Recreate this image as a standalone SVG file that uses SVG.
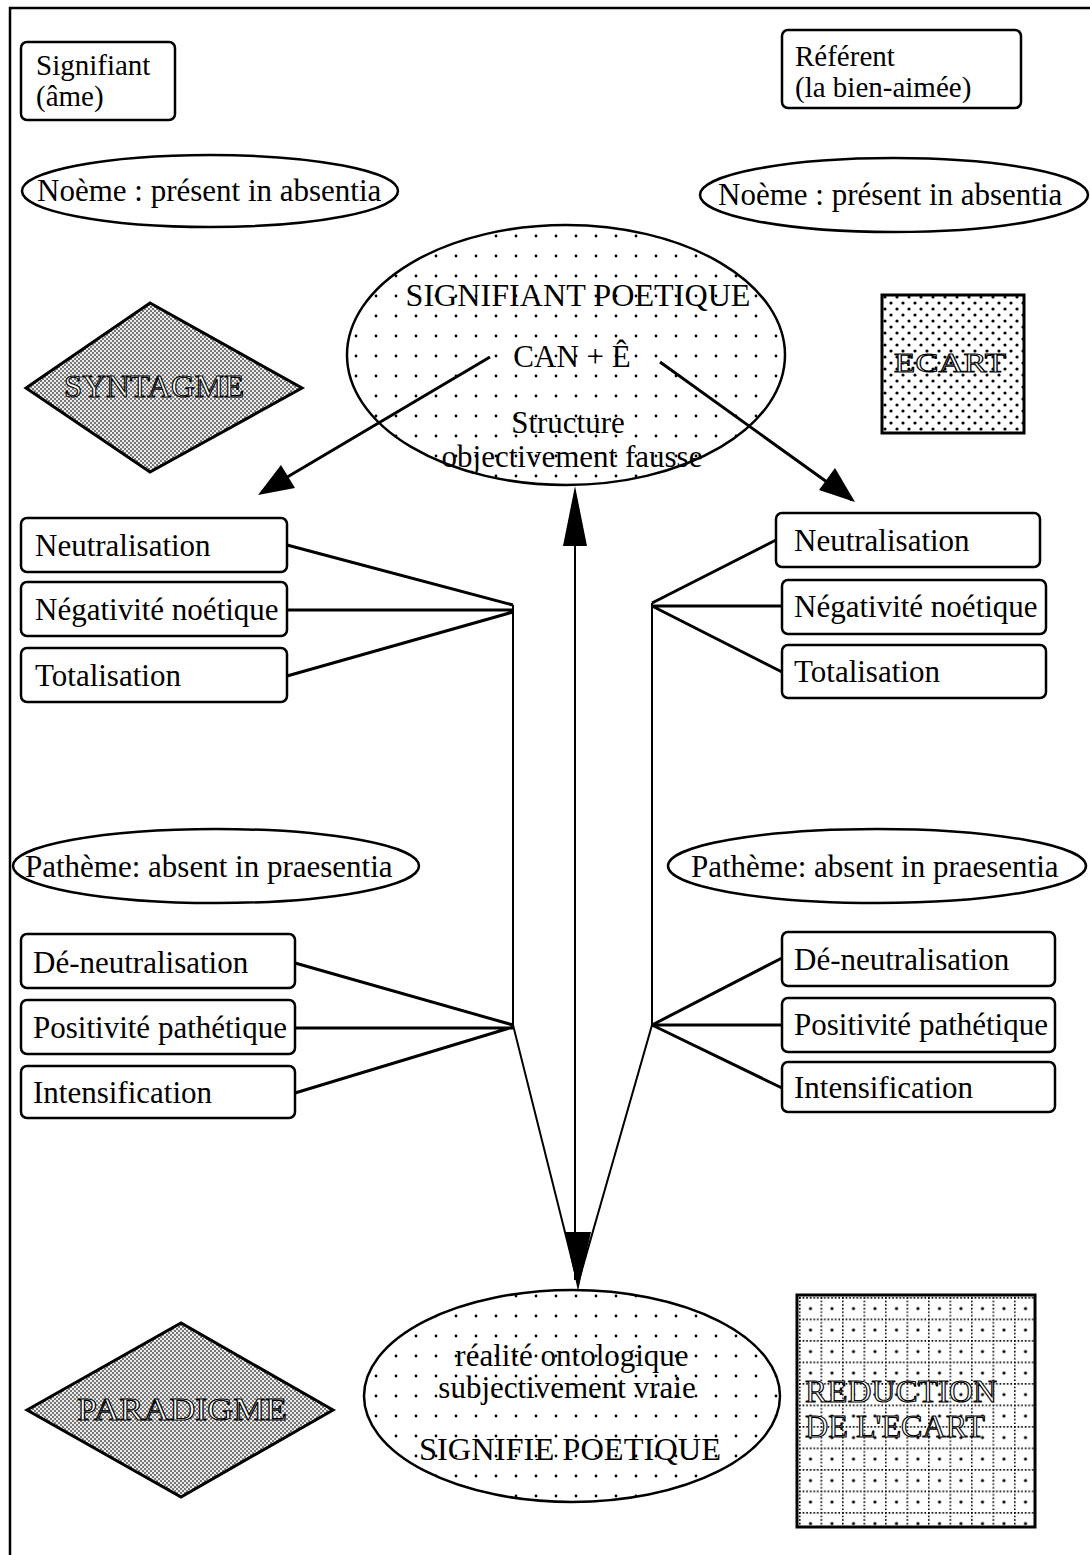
<svg xmlns="http://www.w3.org/2000/svg" width="1090" height="1555" viewBox="0 0 1090 1555">
<defs>
<pattern id="dots" width="20" height="20" patternUnits="userSpaceOnUse" x="6" y="6">
<circle cx="10" cy="10" r="1.4" fill="#000"/>
</pattern>
<pattern id="dense" width="12" height="12" patternUnits="userSpaceOnUse">
<circle cx="3" cy="3" r="1.6" fill="#000"/>
<circle cx="9" cy="9" r="1.6" fill="#000"/>
</pattern>
<pattern id="gray" width="4" height="4" patternUnits="userSpaceOnUse">
<rect width="4" height="4" fill="#ececec"/>
<rect x="0" y="0" width="2" height="2" fill="#777"/>
<rect x="2" y="2" width="2" height="2" fill="#777"/>
</pattern>
<pattern id="grid" width="21.5" height="21.5" patternUnits="userSpaceOnUse" x="799" y="1297">
<line x1="0" y1="0.8" x2="21.5" y2="0.8" stroke="#000" stroke-width="1.6" stroke-dasharray="1.6 2"/>
<line x1="0.8" y1="0" x2="0.8" y2="21.5" stroke="#000" stroke-width="1.6" stroke-dasharray="1.6 2"/>
<circle cx="11.5" cy="11.5" r="1.6" fill="#000"/>
</pattern>
</defs>
<style>
text{font-family:"Liberation Serif","Times New Roman",serif;font-size:31px;fill:#000}
.box{fill:#fff;stroke:#000;stroke-width:2.5}
.ell{fill:#fff;stroke:#000;stroke-width:2.5}
.dot{fill:url(#dots);stroke:#000;stroke-width:2.5}
.out{fill:#fff;stroke:#000;stroke-width:1.1}
.c{text-anchor:middle}
.ln{stroke:#000;stroke-width:3;fill:none}
.thin{stroke:#000;stroke-width:2;fill:none}
</style>
<rect width="1090" height="1555" fill="#fff"/>
<path d="M10,1555 L10,8 L1090,8" fill="none" stroke="#000" stroke-width="2.5"/>

<g id="signifiant">
<rect class="box" x="21" y="42" width="154" height="78" rx="6"/>
<text x="36" y="75" style="font-size:29px">Signifiant<tspan x="36" y="106">(âme)</tspan></text>
</g>
<g id="referent">
<rect class="box" x="782" y="30" width="239" height="78" rx="6"/>
<text x="795" y="66" style="font-size:29px">Référent<tspan x="795" y="97">(la bien-aimée)</tspan></text>
</g>
<g id="noeme-left">
<ellipse class="ell" cx="210" cy="191" rx="188" ry="36"/>
<text x="37" y="201">Noème : présent in absentia</text>
</g>
<g id="noeme-right">
<ellipse class="ell" cx="894" cy="195" rx="194" ry="37"/>
<text x="718" y="205">Noème : présent in absentia</text>
</g>
<g id="signifiant-poetique">
<ellipse class="dot" cx="566" cy="355" rx="219" ry="130"/>
<text class="c" x="578" y="306" textLength="345" lengthAdjust="spacingAndGlyphs">SIGNIFIANT POETIQUE</text>
<text class="c" x="572" y="367">CAN + Ê</text>
<text class="c" x="568" y="433">Structure</text>
<text class="c" x="572" y="467">objectivement fausse</text>
</g>
<g id="syntagme">
<polygon points="26,388 150,303 302,388 150,472" fill="url(#gray)" stroke="#000" stroke-width="3"/>
<text class="out c" x="154" y="397" textLength="180" lengthAdjust="spacingAndGlyphs">SYNTAGME</text>
</g>
<g id="ecart">
<rect x="882" y="295" width="142" height="138" fill="url(#dense)" stroke="#000" stroke-width="3"/>
<text class="out c" x="950" y="372" style="font-size:28px" textLength="112" lengthAdjust="spacingAndGlyphs">ECART</text>
</g>

<g id="connectors">
<line class="ln" x1="490" y1="357" x2="262" y2="492"/>
<polygon points="258,495 281,465 295,488"/>
<line class="ln" x1="660" y1="362" x2="852" y2="500"/>
<polygon points="855,502 819,490 835,468"/>
<line class="thin" x1="575" y1="500" x2="575" y2="1280"/>
<polygon points="575,486 563,546 587,546"/>
<polygon points="578,1291 565,1232 591,1232"/>
<path class="ln" d="M287,545 L513,605 M287,610 L513,610 M287,676 L513,612"/>
<path class="thin" d="M513,605 L513,1025 L577,1280"/>
<path class="ln" d="M776,540 L652,603 M782,606 L652,606 M782,672 L652,606"/>
<path class="thin" d="M652,603 L652,1025 L579,1280"/>
<path class="ln" d="M295,963 L513,1025 M295,1028 L513,1028 M295,1093 L513,1027"/>
<path class="ln" d="M782,958 L652,1025 M782,1025 L652,1025 M782,1088 L652,1025"/>
</g>

<g id="neutralisation-l"><rect class="box" x="21" y="518" width="266" height="54" rx="6"/><text x="35" y="556">Neutralisation</text></g>
<g id="negativite-l"><rect class="box" x="21" y="582" width="266" height="54" rx="6"/><text x="35" y="620">Négativité noétique</text></g>
<g id="totalisation-l"><rect class="box" x="21" y="648" width="266" height="54" rx="6"/><text x="35" y="686">Totalisation</text></g>

<g id="neutralisation-r"><rect class="box" x="776" y="513" width="264" height="54" rx="6"/><text x="794" y="551">Neutralisation</text></g>
<g id="negativite-r"><rect class="box" x="782" y="580" width="264" height="54" rx="6"/><text x="794" y="617">Négativité noétique</text></g>
<g id="totalisation-r"><rect class="box" x="782" y="645" width="264" height="53" rx="6"/><text x="794" y="682">Totalisation</text></g>

<g id="patheme-left">
<ellipse class="ell" cx="216" cy="866" rx="203" ry="37"/>
<text x="25" y="877">Pathème: absent in praesentia</text>
</g>
<g id="patheme-right">
<ellipse class="ell" cx="877" cy="866" rx="209" ry="37"/>
<text x="691" y="877">Pathème: absent in praesentia</text>
</g>

<g id="deneutralisation-l"><rect class="box" x="21" y="934" width="274" height="54" rx="6"/><text x="33" y="973">Dé-neutralisation</text></g>
<g id="positivite-l"><rect class="box" x="21" y="1000" width="274" height="54" rx="6"/><text x="33" y="1038">Positivité pathétique</text></g>
<g id="intensification-l"><rect class="box" x="21" y="1066" width="274" height="52" rx="6"/><text x="33" y="1103">Intensification</text></g>

<g id="deneutralisation-r"><rect class="box" x="782" y="932" width="273" height="54" rx="6"/><text x="794" y="970">Dé-neutralisation</text></g>
<g id="positivite-r"><rect class="box" x="782" y="998" width="273" height="54" rx="6"/><text x="794" y="1035">Positivité pathétique</text></g>
<g id="intensification-r"><rect class="box" x="782" y="1062" width="273" height="50" rx="6"/><text x="794" y="1098">Intensification</text></g>

<g id="signifie-poetique">
<ellipse class="dot" cx="572" cy="1396" rx="208" ry="106"/>
<text class="c" x="572" y="1366">réalité ontologique</text>
<text class="c" x="567" y="1398">subjectivement vraie</text>
<text class="c" x="570" y="1460" textLength="302" lengthAdjust="spacingAndGlyphs">SIGNIFIE POETIQUE</text>
</g>
<g id="paradigme">
<polygon points="27,1410 181,1323 333,1410 181,1497" fill="url(#gray)" stroke="#000" stroke-width="3"/>
<text class="out c" x="182" y="1420" textLength="210" lengthAdjust="spacingAndGlyphs">PARADIGME</text>
</g>
<g id="reduction">
<rect x="797" y="1295" width="238" height="232" fill="url(#grid)" stroke="#000" stroke-width="3"/>
<text class="out" x="805" y="1402" textLength="192" lengthAdjust="spacingAndGlyphs">REDUCTION</text>
<text class="out" x="805" y="1437" textLength="180" lengthAdjust="spacingAndGlyphs">DE L'ECART</text>
</g>
</svg>
